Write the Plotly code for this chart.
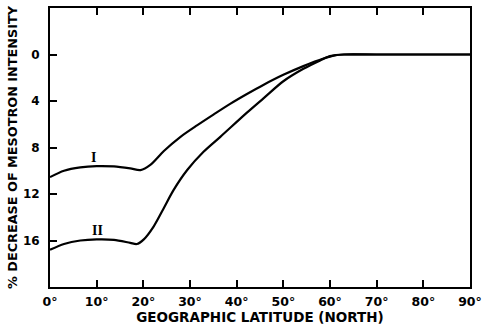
import plotly.graph_objects as go

# Curve I
lat_I = [0, 3, 6.5, 10, 13.7, 17.2, 19.4, 21.5, 24.4, 27.9, 31.5, 35.1, 38.6, 42.2, 45.8, 50, 54.3, 58.6, 61, 63, 70, 80, 90]
val_I = [10.55, 10.0, 9.71, 9.6, 9.63, 9.8, 9.94, 9.5, 8.3, 7.1, 6.1, 5.15, 4.25, 3.4, 2.6, 1.75, 1.0, 0.35, 0.08, 0, 0, 0, 0]

# Curve II
lat_II = [0, 3, 6.5, 10, 13.7, 17.2, 18.6, 20.1, 22.2, 24.4, 26.5, 29.4, 32.9, 36.5, 42.2, 45.8, 50, 54.3, 57.9, 60, 62, 63, 70, 80, 90]
val_II = [16.8, 16.3, 16.0, 15.9, 15.94, 16.2, 16.3, 15.9, 14.8, 13.2, 11.65, 9.94, 8.37, 7.08, 5.0, 3.75, 2.3, 1.23, 0.51, 0.14, 0.02, 0, 0, 0, 0]

x_ticks = [0, 10, 20, 30, 40, 50, 60, 70, 80, 90]
x_labels = ["0°", "10°", "20°", "30°", "40°", "50°", "60°", "70°", "80°", "90°"]
y_ticks = [0, 4, 8, 12, 16]
y_labels = ["0", "4", "8", "12", "16"]
y_range = [20, -4]

curve_labels = ["I", "II"]
label_pos_x = [9.4, 10.1]
label_pos_y = [8.9, 15.1]

fig = go.Figure()
for lx, ly in [(lat_I, val_I), (lat_II, val_II)]:
    fig.add_trace(go.Scatter(x=lx, y=ly, mode="lines",
                             line=dict(color="black", width=2.2, shape="spline", smoothing=0.8),
                             showlegend=False, hoverinfo="skip"))

for t, ax_, ay_ in zip(curve_labels, label_pos_x, label_pos_y):
    fig.add_annotation(x=ax_, y=ay_, text="<b>" + t + "</b>", showarrow=False,
                       font=dict(family="Liberation Serif", size=14, color="black"))

fig.update_layout(
    width=484, height=328,
    margin=dict(l=50, r=14, t=8, b=41, autoexpand=False),
    paper_bgcolor="white", plot_bgcolor="white",
    template="none",
    font=dict(family="DejaVu Sans", color="black"),
    xaxis=dict(range=[0, 90], tickmode="array", tickvals=x_ticks, ticktext=x_labels, automargin=False,
               ticks="inside", ticklen=7, tickwidth=1.8, tickcolor="black", ticklabelstandoff=2,
               showline=True, linecolor="black", linewidth=2, mirror="ticks",
               showgrid=False, zeroline=False,
               tickfont=dict(family="DejaVu Sans", size=12.5, weight="bold"),
               title=dict(text="GEOGRAPHIC LATITUDE (NORTH)", standoff=0,
                          font=dict(family="DejaVu Sans", size=13.5, weight="bold"))),
    yaxis=dict(range=y_range, tickmode="array", tickvals=y_ticks, ticktext=y_labels, automargin=False,
               ticks="inside", ticklen=7, tickwidth=1.8, tickcolor="black", ticklabelstandoff=6,
               showline=True, linecolor="black", linewidth=2, mirror=True,
               showgrid=False, zeroline=False,
               tickfont=dict(family="DejaVu Sans", size=12, weight="bold"),
               title=dict(text="% DECREASE OF MESOTRON INTENSITY", standoff=2,
                          font=dict(family="DejaVu Sans", size=12.8, weight="bold"))),
)

fig.write_html("out.html", config={"displayModeBar": False},
               post_script="document.body.style.margin='0';")
